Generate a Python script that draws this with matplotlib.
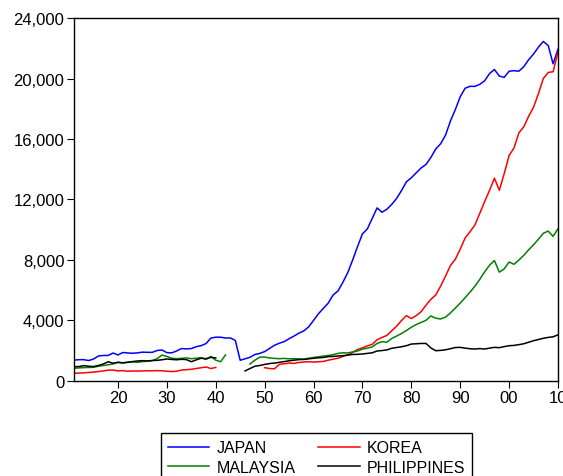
import numpy as np
import matplotlib
matplotlib.use("Agg")
import matplotlib.pyplot as plt
from matplotlib.ticker import FuncFormatter

plt.rcParams['font.family'] = ['Liberation Sans', 'DejaVu Sans']

years = np.arange(1911, 2011)

japan = [1356, 1384, 1387, 1327, 1430, 1630, 1665, 1668, 1827, 1696,
         1860, 1831, 1809, 1836, 1885, 1872, 1870, 1992, 2026, 1850,
         1837, 1962, 2122, 2098, 2120, 2244, 2315, 2449, 2816, 2874,
         2873, 2818, 2822, 2659, 1346, 1444, 1541, 1725, 1800, 1921,
         2126, 2336, 2474, 2582, 2771, 2948, 3136, 3289, 3554, 3986,
         4426, 4777, 5129, 5668, 5934, 6506, 7152, 7983, 8874, 9714,
         10040, 10734, 11434, 11145, 11344, 11669, 12064, 12585, 13163, 13428,
         13754, 14078, 14307, 14773, 15331, 15679, 16251, 17185, 17943, 18789,
         19355, 19482, 19478, 19612, 19849, 20327, 20595, 20161, 20075, 20481,
         20518, 20484, 20781, 21244, 21618, 22074, 22454, 22181, 20970, 21935]

korea = [490, 500, 510, 540, 560, 600, 640, 690, 700, 640,
         660, 620, 640, 630, 640, 650, 650, 660, 650, 620,
         600, 620, 700, 720, 750, 800, 850, 900, 800, 870,
         None, None, None, None, None, None, None, None, None, 854,
         800, 780, 1072, 1120, 1160, 1140, 1200, 1230, 1250, 1226,
         1250, 1270, 1350, 1420, 1480, 1600, 1700, 1860, 2060, 2167,
         2300, 2400, 2700, 2860, 2990, 3300, 3600, 3980, 4300, 4110,
         4300, 4560, 4990, 5380, 5670, 6260, 6920, 7620, 8030, 8700,
         9440, 9850, 10300, 11070, 11850, 12600, 13400, 12600, 13700, 14900,
         15400, 16400, 16800, 17500, 18100, 19000, 20000, 20400, 20450, 21750]

malaysia = [817, 840, 860, 870, 880, 950, 1000, 1050, 1100, 1210,
            1180, 1220, 1240, 1210, 1260, 1280, 1320, 1450, 1690, 1600,
            1480, 1450, 1470, 1500, 1450, 1480, 1520, 1400, 1600, 1350,
            1250, 1700, None, None, None, None, 1100, 1350, 1550, 1560,
            1500, 1470, 1450, 1470, 1440, 1450, 1440, 1420, 1480, 1530,
            1580, 1620, 1660, 1720, 1800, 1840, 1830, 1900, 1960, 2080,
            2150, 2230, 2460, 2580, 2540, 2790, 2950, 3120, 3320, 3530,
            3710, 3850, 3990, 4280, 4130, 4080, 4200, 4480, 4800, 5130,
            5490, 5850, 6250, 6700, 7200, 7640, 7950, 7180, 7400, 7850,
            7700, 7980, 8290, 8660, 8990, 9360, 9750, 9900, 9550, 10050]

philippines = [920, 930, 990, 950, 930, 1000, 1100, 1250, 1150, 1210,
               1170, 1210, 1260, 1300, 1320, 1300, 1330, 1340, 1380, 1430,
               1400, 1380, 1410, 1390, 1250, 1370, 1480, 1450, 1540, 1500,
               None, None, None, None, None, 640, 800, 950, 1000, 1070,
               1130, 1160, 1210, 1260, 1310, 1350, 1390, 1400, 1440, 1476,
               1510, 1530, 1590, 1600, 1630, 1650, 1690, 1730, 1740, 1764,
               1800, 1840, 1960, 1990, 2030, 2140, 2190, 2240, 2310, 2420,
               2440, 2460, 2460, 2160, 1980, 2000, 2040, 2110, 2190, 2200,
               2150, 2110, 2090, 2120, 2090, 2150, 2200, 2180, 2250, 2310,
               2330, 2380, 2440, 2540, 2640, 2720, 2800, 2860, 2900, 3030]

series = [("JAPAN", japan, "blue"), ("KOREA", korea, "red"),
          ("MALAYSIA", malaysia, "green"), ("PHILIPPINES", philippines, "black")]

fig = plt.figure(figsize=(5.63, 4.77), dpi=100)
ax = fig.add_axes([0.1314, 0.2, 0.8597, 0.76])

lines = {}
for name, vals, col in series:
    y = np.array([np.nan if v is None else v for v in vals], dtype=float)
    lines[name], = ax.plot(years, y, color=col, lw=1.1, label=name)

ax.set_xlim(1911, 2010)
ax.set_ylim(0, 24000)
ax.set_yticks(np.arange(0, 24001, 4000))
ax.yaxis.set_major_formatter(FuncFormatter(lambda v, p: f"{int(v):,}"))
ax.set_xticks(np.arange(1920, 2011, 10))
ax.xaxis.set_major_formatter(FuncFormatter(lambda v, p: f"{int(v) % 100:02d}"))
ax.tick_params(direction='out', length=5, width=0.8, labelsize=12, pad=2)
for s in ax.spines.values():
    s.set_linewidth(1.0)

# matplotlib fills legend columns first, so order gives JAPAN KOREA / MALAYSIA PHILIPPINES rows
order = ["JAPAN", "MALAYSIA", "KOREA", "PHILIPPINES"]
fig.legend([lines[k] for k in order], order,
           loc='upper left', bbox_to_anchor=(0.2855, 0.0901), ncol=2,
           fontsize=11.5, frameon=True, fancybox=False, edgecolor='black',
           framealpha=1, handlelength=2.6, handletextpad=0.45,
           columnspacing=1.4, labelspacing=0.3, borderpad=0.45,
           borderaxespad=0)

fig.savefig("out.png", dpi=100)
